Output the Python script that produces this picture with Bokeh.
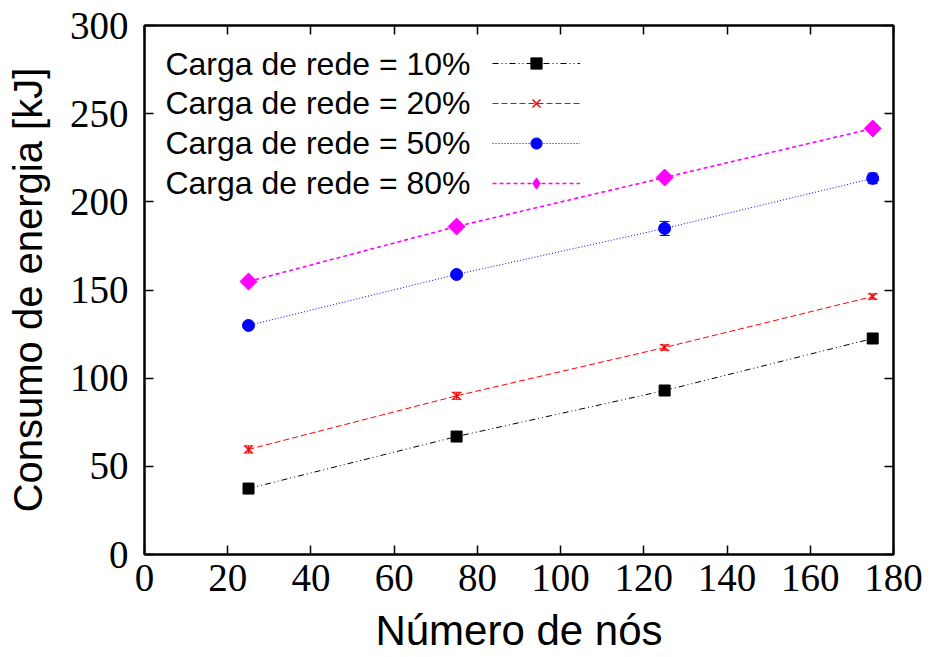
import math
import numpy as np
from bokeh.plotting import figure
from bokeh.models import (ColumnDataSource, Whisker, TeeHead, LinearAxis, FixedTicker,
                          Range1d, Legend, LegendItem, Label)
from bokeh.embed import file_html
from bokeh.resources import INLINE

# ---- data ----
nodes = [25, 75, 125, 175]
series_labels = ["Carga de rede = 10%", "Carga de rede = 20%",
                 "Carga de rede = 50%", "Carga de rede = 80%"]
load10 = [37.4, 66.9, 93.0, 122.5]
load20 = [59.6, 90.0, 117.4, 146.3]
load50 = [129.9, 158.8, 184.9, 213.3]
load80 = [154.8, 186.0, 213.8, 241.6]
err10 = [0.6, 0.6, 0.6, 0.6]
err20 = [2.0, 2.0, 1.5, 1.5]
err50 = [1.0, 1.0, 4.0, 3.0]
err80 = [0.5, 0.5, 0.5, 0.5]
x_ticks = [0, 20, 40, 60, 80, 100, 120, 140, 160, 180]
y_ticks = [0, 50, 100, 150, 200, 250, 300]

colors = ["#000000", "#ff0000", "#0000ff", "#ff00ff"]
dashes = ["6 3 1 3 1 3", "6 3", "1 2", "4 3"]
markers = ["square", "x", "circle", "square"]
legend_markers = ["square", "x", "circle", "diamond"]
angles = [0, 0, 0, math.pi / 4]
msizes = [11, 10, 12, 12]
lwidths = [1, 1, 1, 1.6]

p = figure(width=933, height=657, output_backend="svg", toolbar_location=None,
           x_range=Range1d(0, 180), y_range=Range1d(0, 300),
           min_border_left=144, min_border_right=40, min_border_top=25,
           min_border_bottom=103)
p.xgrid.visible = False
p.ygrid.visible = False
p.outline_line_color = "black"
p.outline_line_width = 2
p.background_fill_color = "white"
p.border_fill_color = "white"

tick_font = "Liberation Serif"
title_font = "Liberation Sans"

for ax, ticks in ((p.xaxis[0], x_ticks), (p.yaxis[0], y_ticks)):
    ax.ticker = FixedTicker(ticks=ticks)
    ax.minor_tick_line_color = None
    ax.major_tick_in = 9
    ax.major_tick_out = 0
    ax.major_tick_line_width = 1.5
    ax.axis_line_width = 2
    ax.major_label_text_font = tick_font
    ax.major_label_text_font_size = "39px"
    ax.major_label_text_color = "black"
    ax.axis_label_text_font = title_font
    ax.axis_label_text_font_style = "normal"
    ax.axis_label_text_color = "black"

p.xaxis[0].axis_label = "Número de nós"
p.yaxis[0].axis_label = "Consumo de energia [kJ]"
p.xaxis[0].axis_label_text_font_size = "42px"
p.yaxis[0].axis_label_text_font_size = "40px"
p.xaxis[0].major_label_standoff = 10
p.yaxis[0].major_label_standoff = 16
p.xaxis[0].axis_label_standoff = 13
p.yaxis[0].axis_label_standoff = 17

# mirrored axes (ticks only)
top_ax = LinearAxis(ticker=FixedTicker(ticks=x_ticks), major_label_text_font_size="0px",
                    major_tick_in=9, major_tick_out=0, minor_tick_line_color=None,
                    major_tick_line_width=1.5, axis_line_width=2, major_label_standoff=0)
right_ax = LinearAxis(ticker=FixedTicker(ticks=y_ticks), major_label_text_font_size="0px",
                      major_tick_in=9, major_tick_out=0, minor_tick_line_color=None,
                      major_tick_line_width=1.5, axis_line_width=2, major_label_standoff=0)
top_ax.major_label_overrides = {t: "" for t in x_ticks}
right_ax.major_label_overrides = {t: "" for t in y_ticks}
p.add_layout(top_ax, "above")
p.add_layout(right_ax, "right")

all_vals = [load10, load20, load50, load80]
all_errs = [err10, err20, err50, err80]
items = []
for i in range(4):
    vals = all_vals[i]
    errs = all_errs[i]
    src = ColumnDataSource(dict(x=nodes, y=vals,
                                lo=[v - e for v, e in zip(vals, errs)],
                                hi=[v + e for v, e in zip(vals, errs)]))
    ln = p.line("x", "y", source=src, line_color=colors[i], line_dash=dashes[i],
                line_width=lwidths[i])
    w = Whisker(source=src, base="x", upper="hi", lower="lo", line_color=colors[i],
                line_width=1,
                upper_head=TeeHead(size=10, line_color=colors[i], line_width=1),
                lower_head=TeeHead(size=10, line_color=colors[i], line_width=1))
    p.add_layout(w)
    if markers[i] == "x":
        p.scatter("x", "y", source=src, marker="x", size=msizes[i],
                  line_color=colors[i], line_width=1.5)
    else:
        p.scatter("x", "y", source=src, marker=markers[i], size=msizes[i],
                  angle=angles[i], fill_color=colors[i], line_color=colors[i])
    # legend-only marker sample (a single non-plotted NaN point)
    leg_src = ColumnDataSource(dict(x=np.array([np.nan]), y=np.array([np.nan])))
    lm = p.scatter("x", "y", source=leg_src, marker=legend_markers[i], size=10,
                   fill_color=colors[i], line_color=colors[i],
                   line_width=1.5 if legend_markers[i] == "x" else 1)
    items.append(LegendItem(label=" ", renderers=[ln, lm]))

# legend samples on the right of text (gnuplot style)
legend = Legend(items=items, location=(348, 357), orientation="vertical",
                glyph_width=88, glyph_height=28, spacing=12, padding=0, margin=0,
                label_standoff=0, label_width=0, label_height=1,
                label_text_font_size="1px", border_line_color=None,
                background_fill_alpha=0)
p.add_layout(legend, "center")

row_y = [491, 452, 412, 372]
for i in range(4):
    p.add_layout(Label(x=326, y=row_y[i], x_units="screen", y_units="screen",
                       text=series_labels[i], text_align="right", text_baseline="middle",
                       text_font=title_font, text_font_size="32px", text_color="black"))

open("out.html", "w").write(file_html(p, INLINE))
